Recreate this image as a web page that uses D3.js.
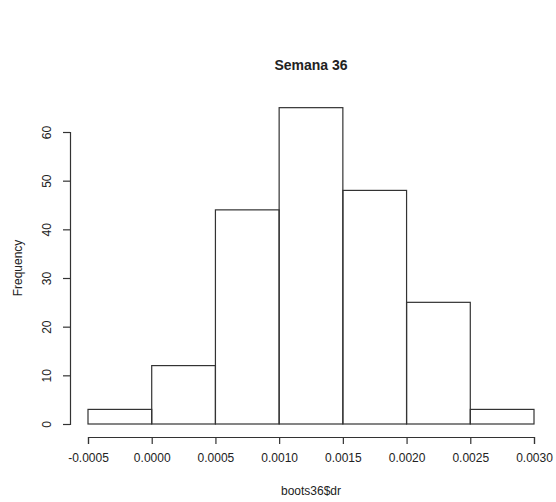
<!DOCTYPE html>
<html>
<head>
<meta charset="utf-8">
<script src="https://cdn.jsdelivr.net/npm/d3@7"></script>
<style>
  body { margin: 0; background: #fff; }
  text { font-family: "Liberation Sans", Arial, sans-serif; fill: #222; }
</style>
</head>
<body>
<svg id="chart"></svg>
<script>
// Histogram data (bin edges and counts)
const binStarts = [-0.0005, 0.0000, 0.0005, 0.0010, 0.0015, 0.0020, 0.0025];
const binWidth = 0.0005;
const counts = [3, 12, 44, 65, 48, 25, 3];
const xTicks = [-0.0005, 0.0000, 0.0005, 0.0010, 0.0015, 0.0020, 0.0025, 0.0030];
const yTicks = [0, 10, 20, 30, 40, 50, 60];

const width = 556;
const height = 502;

const svg = d3.select('#chart')
  .attr('width', width)
  .attr('height', height);

// Scales
const xScale = d3.scaleLinear()
  .domain([-0.0005, 0.0030])
  .range([88, 534]);

const yScale = d3.scaleLinear()
  .domain([0, 60])
  .range([424, 132]);

// Bars
svg.selectAll('.bar')
  .data(counts)
  .enter().append('rect')
  .attr('class', 'bar')
  .attr('x', (d, i) => xScale(binStarts[i]))
  .attr('y', d => yScale(d))
  .attr('width', (d, i) => xScale(binStarts[i] + binWidth) - xScale(binStarts[i]))
  .attr('height', d => yScale(0) - yScale(d))
  .attr('fill', 'none')
  .attr('stroke', '#333')
  .attr('stroke-width', 1.2);

// X axis
const xAxis = d3.axisBottom(xScale)
  .tickValues(xTicks)
  .tickSize(7)
  .tickPadding(9)
  .tickFormat(d3.format('.4f'));
const gx = svg.append('g')
  .attr('transform', 'translate(0, 437)')
  .call(xAxis);
gx.selectAll('text')
  .attr('font-size', 12)
  .style('font-family', '"Liberation Sans", Arial, sans-serif')
  .attr('fill', '#222')
  .text(d => d < 0 ? '-' + d3.format('.4f')(-d) : d3.format('.4f')(d));

// Y axis
const yAxis = d3.axisLeft(yScale)
  .tickValues(yTicks)
  .tickSize(7)
  .tickPadding(0);
const gy = svg.append('g')
  .attr('transform', 'translate(70, 0)')
  .call(yAxis);
gy.selectAll('text')
  .attr('font-size', 12)
  .style('font-family', '"Liberation Sans", Arial, sans-serif')
  .attr('fill', '#222')
  .attr('text-anchor', 'middle')
  .attr('dy', null)
  .attr('x', null)
  .attr('transform', 'translate(-23, 0) rotate(-90)')
  .attr('dominant-baseline', 'central');

[gx, gy].forEach(g => {
  g.select('.domain').attr('stroke', '#333').attr('stroke-width', 1.2);
  g.selectAll('.tick line').attr('stroke', '#333').attr('stroke-width', 1.2);
});

// Title
svg.append('text')
  .attr('x', 311)
  .attr('y', 70)
  .attr('text-anchor', 'middle')
  .attr('font-size', 14)
  .attr('font-weight', 'bold')
  .text('Semana 36');

// Axis labels
svg.append('text')
  .attr('x', 311)
  .attr('y', 495)
  .attr('text-anchor', 'middle')
  .attr('font-size', 12)
  .text('boots36$dr');

svg.append('text')
  .attr('transform', 'translate(22, 268) rotate(-90)')
  .attr('text-anchor', 'middle')
  .attr('font-size', 12)
  .text('Frequency');
</script>
</body>
</html>
